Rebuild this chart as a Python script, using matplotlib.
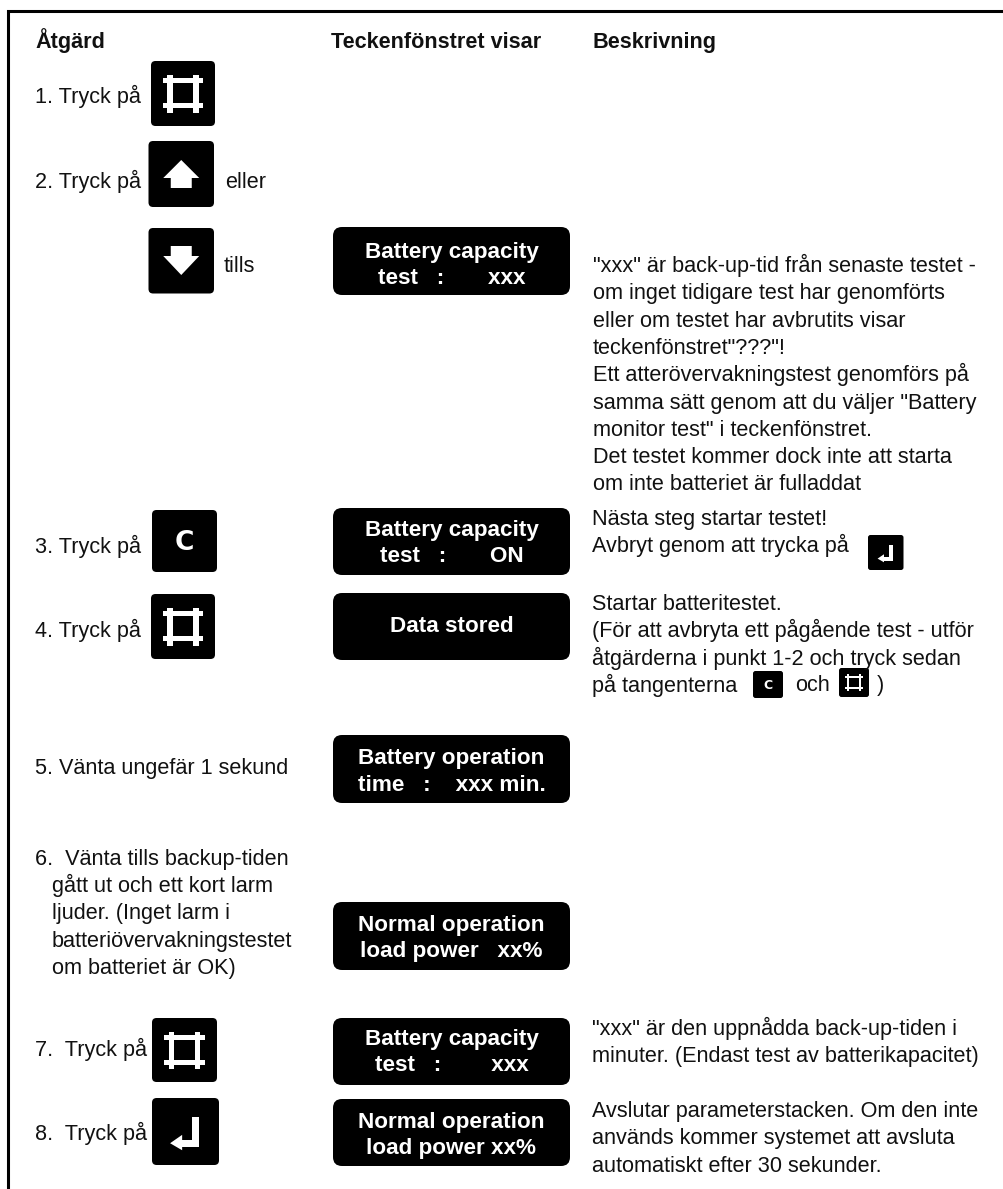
"""
Battery test procedure table, redrawn in pixel coordinates.
"""

import matplotlib
matplotlib.use('Agg')
import matplotlib.pyplot as plt
from matplotlib.patches import FancyBboxPatch, Polygon, Rectangle

plt.rcParams['font.family'] = ['Liberation Sans', 'DejaVu Sans']

# ── Text content ──────────────────────────────────────────────────────────────
headers = ["Åtgärd", "Teckenfönstret visar", "Beskrivning"]

steps = ["1. Tryck på", "2. Tryck på", "3. Tryck på", "4. Tryck på",
         "5. Vänta ungefär 1 sekund", "7.  Tryck på", "8.  Tryck på"]

step6 = ["6.  Vänta tills backup-tiden", "gått ut och ett kort larm", "ljuder. (Inget larm i",
         "batteriövervakningstestet", "om batteriet är OK)"]

displays = ["Battery capacity\ntest   :       xxx",
            "Battery capacity\ntest   :       ON",
            "Data stored",
            "Battery operation\ntime   :    xxx min.",
            "Normal operation\nload power   xx%",
            "Battery capacity\ntest   :        xxx",
            "Normal operation\nload power xx%"]

desc1 = ['"xxx" är back-up-tid från senaste testet -', "om inget tidigare test har genomförts",
         "eller om testet har avbrutits visar", 'teckenfönstret"???"!',
         "Ett atterövervakningstest genomförs på", 'samma sätt genom att du väljer "Battery',
         'monitor test" i teckenfönstret.', "Det testet kommer dock inte att starta",
         "om inte batteriet är fulladdat"]
desc3 = ["Nästa steg startar testet!", "Avbryt genom att trycka på"]
desc4 = ["Startar batteritestet.", "(För att avbryta ett pågående test - utför",
         "åtgärderna i punkt 1-2 och tryck sedan", "på tangenterna"]
desc7 = ['"xxx" är den uppnådda back-up-tiden i', "minuter. (Endast test av batterikapacitet)"]
desc8 = ["Avslutar parameterstacken. Om den inte", "används kommer systemet att avsluta",
         "automatiskt efter 30 sekunder."]

FS = 15.6

fig = plt.figure(figsize=(10.04, 11.89), dpi=100)
ax = fig.add_axes([0, 0, 1, 1])
ax.set_xlim(0, 1004)
ax.set_ylim(1189, 0)
ax.axis("off")


def label(x, y, s, **kw):
    # y is the text baseline in image pixels
    kw.setdefault("fontsize", FS)
    kw.setdefault("color", "#111111")
    ax.text(x, y, s, va="baseline", ha=kw.pop("ha", "left"), **kw)


def lines(x, y, rows, step=27.3):
    for i, row in enumerate(rows):
        label(x, y + i * step, row)


def key(x0, y0, x1, y1):
    r = max(2.5, (x1 - x0) * 0.07)
    ax.add_patch(FancyBboxPatch((x0 + r, y0 + r), x1 - x0 - 2 * r, y1 - y0 - 2 * r,
                                boxstyle=f"round,pad={r},rounding_size={r}",
                                fc="black", ec="none"))


def white_rect(x0, y0, x1, y1):
    ax.add_patch(Rectangle((x0, y0), x1 - x0, y1 - y0, fc="white", ec="none"))


def key_frame(x0, y0, x1, y1):
    # square with overhanging corners
    key(x0, y0, x1, y1)
    w, h = x1 - x0, y1 - y0
    for fy in (0.30, 0.69):
        white_rect(x0 + 0.19 * w, y0 + fy * h - 0.04 * h, x0 + 0.81 * w, y0 + fy * h + 0.04 * h)
    for fx in (0.30, 0.70):
        white_rect(x0 + fx * w - 0.045 * w, y0 + 0.215 * h, x0 + fx * w + 0.045 * w, y0 + 0.80 * h)


def key_arrow(x0, y0, x1, y1, up=True):
    key(x0, y0, x1, y1)
    cx = (x0 + x1) / 2
    if up:
        pts = [(cx, y0 + 19), (cx + 18, y0 + 37), (cx + 10.5, y0 + 37), (cx + 10.5, y0 + 47),
               (cx - 10.5, y0 + 47), (cx - 10.5, y0 + 37), (cx - 18, y0 + 37)]
    else:
        pts = [(cx, y0 + 47), (cx + 18, y0 + 28), (cx + 10.5, y0 + 28), (cx + 10.5, y0 + 18),
               (cx - 10.5, y0 + 18), (cx - 10.5, y0 + 28), (cx - 18, y0 + 28)]
    ax.add_patch(Polygon(pts, fc="white", ec="none"))


def key_enter(x0, y0, x1, y1):
    key(x0, y0, x1, y1)
    w, h = x1 - x0, y1 - y0
    white_rect(x0 + 0.60 * w, y0 + 0.29 * h, x0 + 0.70 * w, y0 + 0.73 * h)
    white_rect(x0 + 0.43 * w, y0 + 0.63 * h, x0 + 0.70 * w, y0 + 0.73 * h)
    ax.add_patch(Polygon([(x0 + 0.27 * w, y0 + 0.675 * h), (x0 + 0.45 * w, y0 + 0.55 * h),
                          (x0 + 0.45 * w, y0 + 0.78 * h)], fc="white", ec="none"))


def key_c(x0, y0, x1, y1, size):
    key(x0, y0, x1, y1)
    ax.text((x0 + x1) / 2, (y0 + y1) / 2 + size * 0.1, "C", color="white", fontsize=size,
            fontweight="bold", ha="center", va="center", family="DejaVu Sans")


def display(y0, y1, s, dy):
    r = 9
    ax.add_patch(FancyBboxPatch((333 + r, y0 + r), 237 - 2 * r, y1 - y0 - 2 * r,
                                boxstyle=f"round,pad={r},rounding_size={r}", fc="black", ec="none"))
    ax.text(451.5, (y0 + y1) / 2 + dy, s, color="white", fontsize=16.2, fontweight="bold",
            ha="center", va="center", linespacing=1.36)


# ── Outer frame ───────────────────────────────────────────────────────────────
ax.plot([8.5, 8.5, 1004], [1189, 10.5, 10.5], color="black", lw=2.2, solid_joinstyle="miter")

# ── Headers ───────────────────────────────────────────────────────────────────
for x, s in zip([35, 331, 593], headers):
    label(x, 48, s, fontweight="bold")

# ── Left column ───────────────────────────────────────────────────────────────
for y, s in zip([103, 188, 553, 637, 774, 1056, 1140], steps):
    label(35, y, s)
label(225, 188, "eller")
label(224, 272, "tills")
label(35, 865, step6[0])
lines(52, 892, step6[1:])

key_frame(151, 61, 215, 126)
key_arrow(148.5, 141, 214, 207, up=True)
key_arrow(148.5, 228, 214, 293.5, up=False)
key_c(152, 510, 217, 572, 19)
key_frame(151, 594, 215, 659)
key_frame(152, 1018, 217, 1082)
key_enter(152, 1098, 219, 1165)

# ── Display boxes ─────────────────────────────────────────────────────────────
for (y0, y1), dy, s in zip([(227, 295), (508, 575), (593, 660), (735, 803),
                            (902, 970), (1018, 1085), (1099, 1166)],
                           [4.5, 2, 0, 3, 2.5, 1, 3], displays):
    display(y0, y1, s, dy)

# ── Description column ────────────────────────────────────────────────────────
lines(593, 272, desc1)
lines(592, 525, desc3)
lines(592, 610, desc4)
lines(592, 1035, desc7)
lines(592, 1117, desc8)

key_enter(868, 535, 903.5, 570)
key_c(753, 671, 783, 698, 9)
key_frame(839, 668, 869, 697)
label(795, 691, "och")
label(877, 691, ")")

fig.savefig("out.png", dpi=100)
